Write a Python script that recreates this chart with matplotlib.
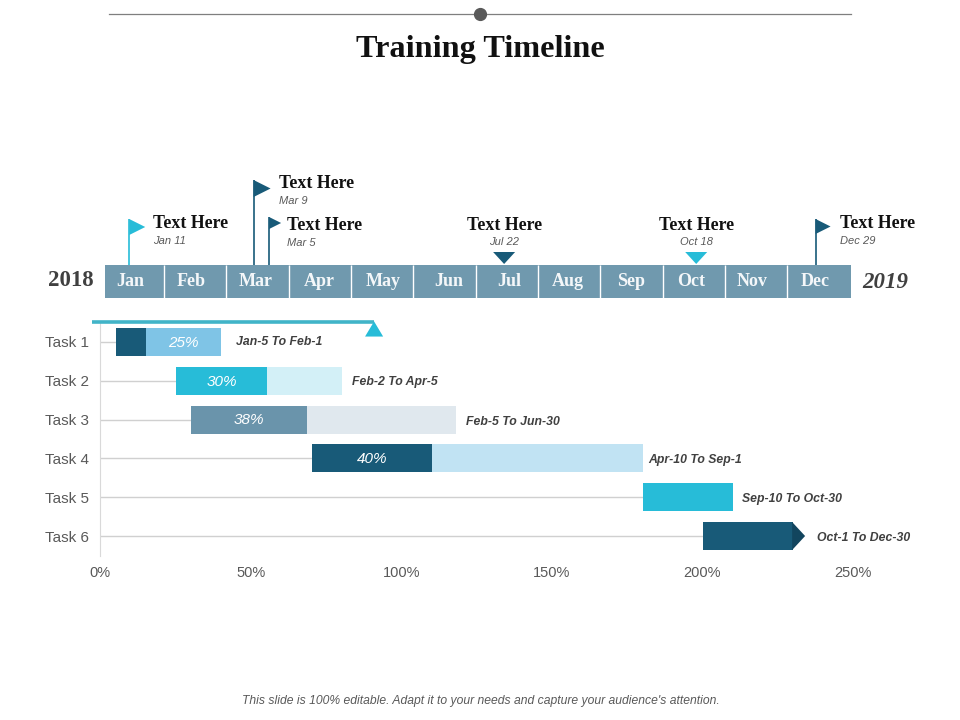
import matplotlib
matplotlib.use('Agg')
import matplotlib.pyplot as plt

W, H = 960, 720

months = ['Jan', 'Feb', 'Mar', 'Apr', 'May', 'Jun', 'Jul', 'Aug', 'Sep', 'Oct', 'Nov', 'Dec']
month_edges = [0, 0.95, 1.95, 2.96, 3.96, 4.96, 5.96, 6.97, 7.97, 8.97, 9.98, 10.97, 12]
month_label_pos = [0.40, 1.38, 2.42, 3.45, 4.48, 5.53, 6.50, 7.44, 8.47, 9.43, 10.41, 11.42]

flag_pos = [0.39, 2.39, 2.64, 11.43]
flag_height = [46, 85, 48, 46]
flag_size = [16, 17, 12, 15]
flag_colors = ['#27bcd8', '#185a78', '#185a78', '#185a78']
flag_titles = ['Text Here', 'Text Here', 'Text Here', 'Text Here']
flag_dates = ['Jan 11', 'Mar 9', 'Mar 5', 'Dec 29']

pin_pos = [6.42, 9.51]
pin_colors = ['#185a78', '#27bcd8']
pin_dates = ['Jul 22', 'Oct 18']

tasks = ['Task 1', 'Task 2', 'Task 3', 'Task 4', 'Task 5', 'Task 6']
starts = [5.4, 25.3, 30.3, 70.3, 180.3, 200.2]
done = [15.3, 55.6, 68.6, 110.3, 210.3, 230.2]
ends = [40.3, 80.3, 118.3, 180.3, 210.3, 230.2]
pct_labels = ['25%', '30%', '38%', '40%', '', '']
ranges = ['Jan-5 To Feb-1', 'Feb-2 To Apr-5', 'Feb-5 To Jun-30', 'Apr-10 To Sep-1',
          'Sep-10 To Oct-30', 'Oct-1 To Dec-30']
range_x = [45, 83.5, 121.5, 182, 213.2, 238]
range_dy = [0, 0.02, 0.05, 0.05, 0.05, 0.05]
dark_colors = ['#185a78', '#27bcd8', '#6a94ab', '#185a78', '#27bcd8', '#185a78']
light_colors = ['#7fc4e6', '#d3f0f7', '#e0e8ee', '#c1e3f3', '#27bcd8', '#185a78']
progress = 91
xticks = [0, 50, 100, 150, 200, 250]

serif = 'Liberation Serif'
sans = 'Liberation Sans'
plt.rcParams['font.family'] = sans

fig = plt.figure(figsize=(W / 100, H / 100), dpi=100)


def make_axes(x0, y0, x1, y1):
    # pixel box, y measured from the top of the picture
    return fig.add_axes([x0 / W, 1 - y1 / H, (x1 - x0) / W, (y1 - y0) / H])


# header and footer
bg = make_axes(0, 0, W, H)
bg.set_xlim(0, W)
bg.set_ylim(H, 0)
bg.axis('off')
bg.plot([109, 851], [14, 14], color='#7f7f7f', lw=0.9)
bg.plot([480], [14], 'o', color='#595959', ms=8.5)
bg.text(480, 49, 'Training Timeline', ha='center', va='center', family=serif,
        weight='bold', size=23.2, color='#111111')
bg.text(481, 701, "This slide is 100% editable. Adapt it to your needs and capture your audience's attention.",
        ha='center', va='center', style='italic', size=8.7, color='#595959')
bg.text(71, 281, '2018', ha='center', va='center', family=serif, weight='bold', size=16.5, color='#404040')
bg.text(885, 282, '2019', ha='center', va='center', family=serif, weight='bold', style='italic',
        size=16.5, color='#404040')

# month strip with flags, y is pixels above the strip bottom
tl = make_axes(105, 170, 851, 298)
tl.set_xlim(0, 12)
tl.set_ylim(0, 128)
tl.axis('off')
px = 12 / 746
lefts = month_edges[:-1]
widths = [b - a for a, b in zip(month_edges[:-1], month_edges[1:])]
tl.bar(lefts, [33] * 12, width=widths, align='edge', color='#7099ae', lw=0)
tl.vlines(month_edges[1:-1], 0, 33, color='white', lw=1)
for m, x in zip(months, month_label_pos):
    tl.text(x, 16, m, ha='center', va='center', family=serif, weight='bold', size=13, color='#f4f7f9')

for i in range(4):
    x, h, s, c = flag_pos[i], flag_height[i], flag_size[i], flag_colors[i]
    top = 33 + h
    tl.plot([x, x], [33, top], color=c, lw=1.2, solid_capstyle='butt')
    tl.fill([x, x, x + s * px], [top, top - s, top - s / 2], color=c, lw=0)
    tx = x + [24, 25, 18, 24][i] * px
    ty = top + [-4.5, -4, -9, -4.5][i]
    tl.text(tx, ty, flag_titles[i], ha='left', va='center', family=serif, weight='bold', size=12.9,
            color='#111111', clip_on=False)
    tl.text(tx, ty - 17, flag_dates[i], ha='left', va='center', style='italic', size=8, color='#595959',
            clip_on=False)

for x, c, d in zip(pin_pos, pin_colors, pin_dates):
    tl.fill([x - 11 * px, x + 11 * px, x], [46, 46, 34], color=c, lw=0)
    tl.text(x, 72, 'Text Here', ha='center', va='center', family=serif, weight='bold', size=12.9, color='#111111')
    tl.text(x, 56, d, ha='center', va='center', style='italic', size=8, color='#595959')

# gantt part
ax = make_axes(100, 322, 853, 556)
ax.set_xlim(0, 250)
ax.set_ylim(5.515, -0.515)
ax.patch.set_alpha(0)
for name in ['top', 'right', 'bottom']:
    ax.spines[name].set_visible(False)
ax.spines['left'].set_color('#d9d9d9')
ax.tick_params(length=0)
ax.set_yticks(range(6), tasks, size=11, color='#595959')
ax.set_xticks(xticks, [f'{t}%' for t in xticks], size=10.5, color='#595959')
ax.tick_params(axis='y', pad=8)
ax.tick_params(axis='x', pad=7)

for i in range(6):
    ax.plot([0, starts[i]], [i, i], color='#d0d0d0', lw=1, zorder=1)
    ax.barh(i, done[i] - starts[i], left=starts[i], height=0.72, color=dark_colors[i], zorder=2)
    ax.barh(i, ends[i] - done[i], left=done[i], height=0.72, color=light_colors[i], zorder=2)
    ax.text(range_x[i], i + range_dy[i], ranges[i], ha='left', va='center', weight='bold', style='italic',
            size=8.8, color='#404040')
    if pct_labels[i]:
        # first task has its label on the light part
        mid = (done[i] + ends[i]) / 2 if i == 0 else (starts[i] + done[i]) / 2
        ax.text(mid, i + 0.02, pct_labels[i], ha='center', va='center', style='italic', size=11, color='white',
                zorder=3)

# arrow tip of last bar, starts a bit inside so no gap shows
ax.fill([done[5] - 0.4, done[5] + 3.9, done[5] - 0.4], [4.64, 5, 5.36], color='#12455e', lw=0, zorder=3)

# progress marker above the bars
ax.plot([-2.7, progress], [-0.515, -0.515], color='#41b4c8', lw=2.6, clip_on=False, solid_capstyle='butt', zorder=4)
ax.fill([progress - 3, progress + 3, progress], [-0.14, -0.14, -0.53], color='#27bcd8', lw=0, clip_on=False, zorder=4)

fig.savefig('out.png', dpi=100)
